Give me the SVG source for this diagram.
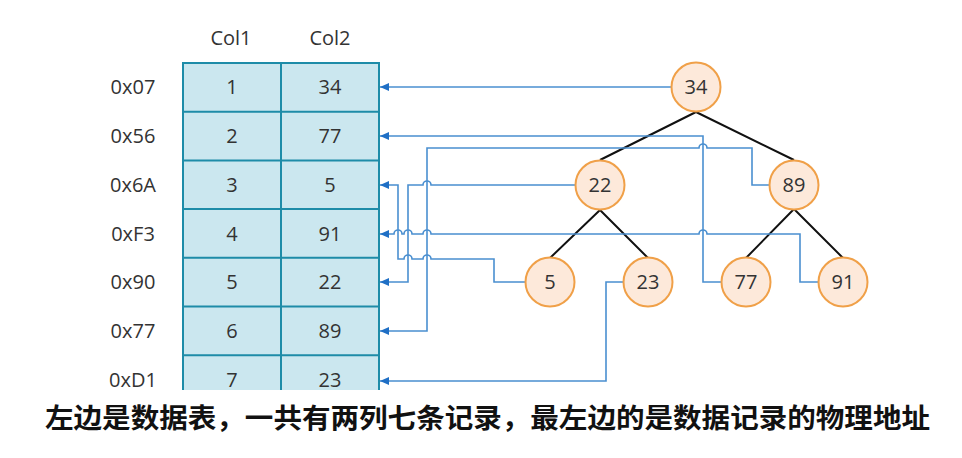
<svg xmlns="http://www.w3.org/2000/svg" width="962" height="458" viewBox="0 0 962 458">
<style>
.lbl{font-family:"Open Sans","DejaVu Sans",sans-serif;font-size:20px;fill:#333;text-anchor:middle}
.node circle{fill:#fde9da;stroke:#f0a048;stroke-width:2}
.edge{stroke:#111;stroke-width:2;fill:none}
.conn{fill:none;stroke:#4a8fd0;stroke-width:1.6;marker-end:url(#arr)}
</style>
<defs>
<marker id="arr" markerUnits="userSpaceOnUse" markerWidth="10" markerHeight="10" refX="9" refY="4" orient="auto">
<path d="M0,0 L9,4 L0,8 z" fill="#1f6fc5"/>
</marker>
</defs>
<rect width="962" height="458" fill="#fff"/>
<g id="table">
<text class="lbl" x="231" y="45">Col1</text>
<text class="lbl" x="330" y="45">Col2</text>
<rect x="183" y="63" width="196" height="327" fill="#cbe7ef" stroke="none"/>
<path d="M183 390 V63 H379 V390 M281 63 V390 M183 111.7 H379 M183 160.4 H379 M183 209.1 H379 M183 257.8 H379 M183 306.5 H379 M183 355.2 H379" fill="none" stroke="#1e8ca8" stroke-width="2"/>
<text class="lbl" x="133" y="94">0x07</text>
<text class="lbl" x="133" y="143">0x56</text>
<text class="lbl" x="133" y="192">0x6A</text>
<text class="lbl" x="133" y="241">0xF3</text>
<text class="lbl" x="133" y="289">0x90</text>
<text class="lbl" x="133" y="338">0x77</text>
<text class="lbl" x="133" y="387">0xD1</text>
<text class="lbl" x="232" y="94">1</text><text class="lbl" x="330" y="94">34</text>
<text class="lbl" x="232" y="143">2</text><text class="lbl" x="330" y="143">77</text>
<text class="lbl" x="232" y="192">3</text><text class="lbl" x="330" y="192">5</text>
<text class="lbl" x="232" y="241">4</text><text class="lbl" x="330" y="241">91</text>
<text class="lbl" x="232" y="289">5</text><text class="lbl" x="330" y="289">22</text>
<text class="lbl" x="232" y="338">6</text><text class="lbl" x="330" y="338">89</text>
<text class="lbl" x="232" y="387">7</text><text class="lbl" x="330" y="387">23</text>
</g>
<g id="edges">
<path class="edge" d="M696 112 L600 160 M696 112 L794 160 M600 210 L550 258 M600 210 L648 258 M794 209 L746 258 M794 209 L843 258"/>
</g>
<g id="connectors">
<path class="conn" d="M671 87 H380"/>
<path class="conn" d="M721 282 H703 V136 H380"/>
<path class="conn" d="M769 185 H752 V148 H707 A4 4 0 0 0 699 148 H427 V331 H380"/>
<path class="conn" d="M818 282 H800 V234 H707 A4 4 0 0 0 699 234 H431 A4 4 0 0 0 423 234 H412 A4 4 0 0 0 404 234 H402 A4 4 0 0 0 394 234 H380"/>
<path class="conn" d="M575 185 H431 A4 4 0 0 0 423 185 H408 V282 H380"/>
<path class="conn" d="M525 282 H494 V259 H431 A4 4 0 0 0 423 259 H412 A4 4 0 0 0 404 259 H398 V185 H380"/>
<path class="conn" d="M623 282 H606 V381 H380"/>
</g>
<g id="n34" class="node"><circle cx="696" cy="87" r="24.5"/><text class="lbl" x="696" y="94">34</text></g>
<g id="n22" class="node"><circle cx="600" cy="185" r="24.5"/><text class="lbl" x="600" y="192">22</text></g>
<g id="n89" class="node"><circle cx="794" cy="185" r="24.5"/><text class="lbl" x="794" y="192">89</text></g>
<g id="n5" class="node"><circle cx="550" cy="282" r="24.5"/><text class="lbl" x="550" y="289">5</text></g>
<g id="n23" class="node"><circle cx="648" cy="282" r="24.5"/><text class="lbl" x="648" y="289">23</text></g>
<g id="n77" class="node"><circle cx="746" cy="282" r="24.5"/><text class="lbl" x="746" y="289">77</text></g>
<g id="n91" class="node"><circle cx="843" cy="282" r="24.5"/><text class="lbl" x="843" y="289">91</text></g>
<text x="45" y="428" textLength="885" lengthAdjust="spacingAndGlyphs" font-family="'Noto Sans CJK SC',sans-serif" font-weight="700" font-size="27" fill="#111">左边是数据表，一共有两列七条记录，最左边的是数据记录的物理地址</text>
</svg>
